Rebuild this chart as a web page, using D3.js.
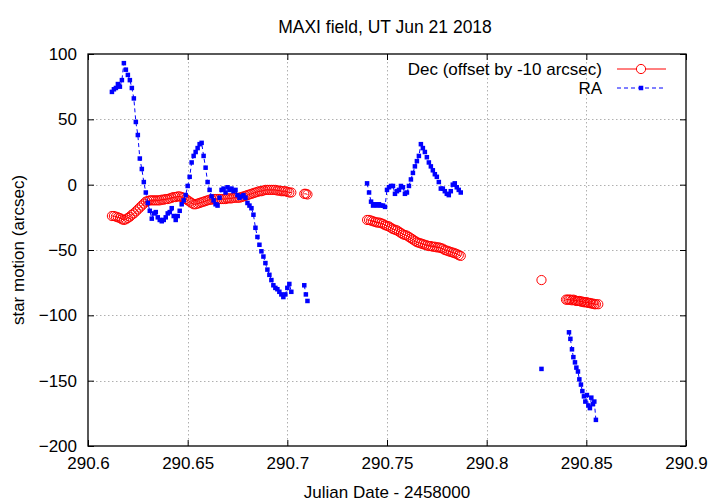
<!DOCTYPE html>
<html><head><meta charset="utf-8">
<script src="https://cdn.jsdelivr.net/npm/d3@7/dist/d3.min.js"></script>
<style>
body{margin:0;background:#fff}
text{font-family:"Liberation Sans",Arial,Helvetica,sans-serif;fill:#000}
</style>
</head><body>
<svg id="chart" width="720" height="504"></svg>
<script>
const chartTitle = "MAXI field, UT Jun 21 2018";
const xLabel = "Julian Date - 2458000";
const yLabel = "star motion (arcsec)";
const legendLabels = ["Dec (offset by -10 arcsec)", "RA"];
const xTicks = [290.6, 290.65, 290.7, 290.75, 290.8, 290.85, 290.9];
const xTickLabels = ["290.6", "290.65", "290.7", "290.75", "290.8", "290.85", "290.9"];
const yTicks = [-200, -150, -100, -50, 0, 50, 100];

// Segment 1 (main run)
const seg1Time = [290.612,290.613,290.614,290.615,290.616,290.617,290.618,290.619,290.620,290.621,
290.622,290.623,290.624,290.625,290.626,290.627,290.628,290.629,290.630,290.631,
290.632,290.633,290.634,290.635,290.636,290.637,290.638,290.639,290.640,290.641,
290.642,290.643,290.644,290.645,290.646,290.647,290.648,290.649,290.650,290.651,
290.652,290.653,290.654,290.655,290.656,290.657,290.658,290.659,290.660,290.661,
290.662,290.663,290.664,290.665,290.666,290.667,290.668,290.669,290.670,290.671,
290.672,290.673,290.674,290.675,290.676,290.677,290.678,290.679,290.680,290.681,
290.682,290.683,290.684,290.685,290.686,290.687,290.688,290.689,290.690,290.691,
290.692,290.693,290.694,290.695,290.696,290.697,290.698,290.699,290.700,290.701,290.702];
const seg1RA = [71,73,74,77,75,80,93,88,84,80,
74,66,48,38,20,12,2,-6,-14,-20,
-26,-22,-21,-25,-27,-28,-27,-25,-22,-21,
-18,-24,-27,-24,-20,-15,-12,-8,-1,6,
17,22,25,28,31,32,22,13,2,-4,
-9,-12,-15,-16,-10,-4,-3,-6,-2,-4,
-3,-5,-4,-8,-10,-9,-8,-10,-14,-16,
-18,-23,-33,-40,-46,-51,-55,-60,-65,-69,
-73,-77,-79,-80,-82,-84,-86,-84,-79,-76,-82];
const seg1Dec = [-24,-24,-24.5,-25,-25.5,-26.5,-27,-26.5,-25.5,-24.5,
-23,-22,-20.5,-19,-17.5,-16,-14.5,-13,-12.5,-12,
-12,-12,-12,-12,-12,-11.5,-11.5,-11,-11,-10.5,
-10,-9.5,-9.5,-9,-9,-9.5,-10,-11,-12,-13,
-14,-15,-15,-14.5,-14,-13.5,-13,-12.5,-12,-11.5,
-11.5,-11,-11,-11,-11,-11,-11,-11,-10.5,-10.5,
-10.5,-10,-10,-10,-10,-9.5,-9,-8.5,-8,-7.5,
-7,-6.5,-6,-5.5,-5,-5,-4.5,-4,-4,-4,
-4,-4,-4,-4.5,-4.5,-5,-5,-5,-5.5,-6,-6];

// Segment 1b (short tail)
const seg1bTime = [290.7085, 290.7093, 290.7101];
const seg1bRA = [-77, -84, -89];
const seg1bDec = [-7, -7, -7.5];

// Segment 2
const seg2Time = [290.740,290.741,290.742,290.743,290.744,290.745,290.746,290.747,290.748,290.749,
290.750,290.751,290.752,290.753,290.754,290.755,290.756,290.757,290.758,290.759,
290.760,290.761,290.762,290.763,290.764,290.765,290.766,290.767,290.768,290.769,
290.770,290.771,290.772,290.773,290.774,290.775,290.776,290.777,290.778,290.779,
290.780,290.781,290.782,290.783,290.784,290.785,290.786,290.787];
const seg2RA = [1,-6,-13,-16,-15,-16,-15,-16,-16,-17,
-4,-2,-1,-1,-7,-5,-4,-1,-2,-7,
-6,-1,4,9,14,18,22,31,28,25,
21,17,14,11,8,6,2,-3,-3,-5,
-7,-8,-5,0,1,-2,-4,-6];
const seg2Dec = [-27,-27,-27.5,-28,-28.5,-29,-29,-29.5,-30,-31,
-31.5,-32,-33,-34,-34.5,-35,-36,-37,-38,-38.5,
-39,-40,-41,-42,-43,-44,-44.5,-45,-45.5,-46,
-46.5,-47,-47,-47.5,-47.5,-48,-48,-48.5,-49,-50,
-50.5,-51,-51.5,-52,-52.5,-53,-54,-54.5];

// Segment 3a (isolated point)
const seg3aTime = [290.8275];
const seg3aRA = [-141];
const seg3aDec = [-73];

// Segment 3b
const seg3bTime = [290.8398,290.8405,290.8413,290.8420,290.8428,290.8435,290.8443,290.8450,290.8458,290.8465,
290.8473,290.8480,290.8488,290.8495,290.8503,290.8510,290.8518,290.8525,290.8533,290.8540,290.8548,290.8560];
const seg3bRA = [null,null,-113,-118,-126,-132,-136,-140,-143,-149,
-153,-158,-162,-166,-161,-169,-171,-163,-168,-166,-180,null];
const seg3bDec = [-88,-88,-88,-88,-88.5,-88,-88.5,-89,-89,-89,
-89.5,-89.5,-90,-90,-90,-90.5,-90.5,-91,-91,-91.5,-91.5,-91.5];

const segments = [
  [seg1Time, seg1RA, seg1Dec],
  [seg1bTime, seg1bRA, seg1bDec],
  [seg2Time, seg2RA, seg2Dec],
  [seg3aTime, seg3aRA, seg3aDec],
  [seg3bTime, seg3bRA, seg3bDec]
];

const RED = "#ff0000", BLUE = "#0000ff";
const L = 88, R = 686, T = 54, B = 446;
const svg = d3.select("#chart");
svg.append("rect").attr("width",720).attr("height",504).attr("fill","#fff");

const x = d3.scaleLinear().domain([290.6, 290.9]).range([L, R]);
const y = d3.scaleLinear().domain([-200, 100]).range([B, T]);

// grid
const grid = svg.append("g");
grid.selectAll("line.gx").data(xTicks.slice(1, -1)).join("line")
  .attr("x1", d => Math.round(x(d)) + 0.5).attr("x2", d => Math.round(x(d)) + 0.5)
  .attr("y1", T).attr("y2", B)
  .attr("stroke", "#b0b0b0").attr("stroke-width", 1).attr("stroke-dasharray", "1.5,2.5");
grid.selectAll("line.gy").data(yTicks.slice(1, -1)).join("line")
  .attr("y1", d => Math.round(y(d)) + 0.5).attr("y2", d => Math.round(y(d)) + 0.5)
  .attr("x1", L).attr("x2", R)
  .attr("stroke", "#b0b0b0").attr("stroke-width", 1).attr("stroke-dasharray", "1.5,2.5");

// axes
const fmt = d => xTickLabels[xTicks.indexOf(d)];
const axB = svg.append("g").attr("transform", `translate(0,${B})`)
  .call(d3.axisBottom(x).tickValues(xTicks).tickFormat(fmt).tickSizeInner(-6).tickSizeOuter(0).tickPadding(10));
const axT = svg.append("g").attr("transform", `translate(0,${T})`)
  .call(d3.axisTop(x).tickValues(xTicks).tickFormat("").tickSizeInner(-6).tickSizeOuter(0));
const axL = svg.append("g").attr("transform", `translate(${L},0)`)
  .call(d3.axisLeft(y).tickValues(yTicks).tickFormat(d3.format("d")).tickSizeInner(-6).tickSizeOuter(0).tickPadding(11));
const axR = svg.append("g").attr("transform", `translate(${R},0)`)
  .call(d3.axisRight(y).tickValues(yTicks).tickFormat("").tickSizeInner(-6).tickSizeOuter(0));
[axB, axT, axL, axR].forEach(g => {
  g.select(".domain").remove();
  g.selectAll(".tick line").attr("stroke", "#000").attr("stroke-width", 1);
  g.selectAll("text").attr("font-size", 17).attr("fill", "#000")
    .style("font-family", '"Liberation Sans",Arial,sans-serif');
});
axB.selectAll("text").attr("dy", "0.75em");

// border
svg.append("rect").attr("x", L).attr("y", T).attr("width", R - L).attr("height", B - T)
  .attr("fill", "none").attr("stroke", "#000").attr("stroke-width", 1.3);

// data
const plot = svg.append("g");
segments.forEach(([t, ra, dec]) => {
  const pts = t.map((tt, i) => ({t: tt, ra: ra[i], dec: dec[i]}));
  const decLine = d3.line().defined(d => d.dec != null).x(d => x(d.t)).y(d => y(d.dec));
  plot.append("path").attr("d", decLine(pts)).attr("fill", "none")
    .attr("stroke", RED).attr("stroke-width", 1);
  plot.selectAll(null).data(pts.filter(d => d.dec != null)).join("circle")
    .attr("cx", d => x(d.t)).attr("cy", d => y(d.dec)).attr("r", 4.6)
    .attr("fill", "none").attr("stroke", RED).attr("stroke-width", 1);
});
segments.forEach(([t, ra, dec]) => {
  const pts = t.map((tt, i) => ({t: tt, ra: ra[i], dec: dec[i]}));
  const raLine = d3.line().defined(d => d.ra != null).x(d => x(d.t)).y(d => y(d.ra));
  plot.append("path").attr("d", raLine(pts)).attr("fill", "none")
    .attr("stroke", BLUE).attr("stroke-width", 1).attr("stroke-dasharray", "4,3");
  plot.selectAll(null).data(pts.filter(d => d.ra != null)).join("rect")
    .attr("x", d => x(d.t) - 2.25).attr("y", d => y(d.ra) - 2.25).attr("width", 4.5).attr("height", 4.5)
    .attr("fill", BLUE);
});

// legend
const lg = svg.append("g");
const legY = [69, 88];
lg.append("text").attr("x", 602).attr("y", legY[0]).attr("dy", "0.35em").attr("text-anchor", "end")
  .attr("font-size", 17).text(legendLabels[0]);
lg.append("line").attr("x1", 617).attr("x2", 666).attr("y1", legY[0]).attr("y2", legY[0])
  .attr("stroke", RED).attr("stroke-width", 1);
lg.append("circle").attr("cx", 641).attr("cy", legY[0]).attr("r", 4.6)
  .attr("fill", "#fff").attr("stroke", RED).attr("stroke-width", 1);
lg.append("text").attr("x", 602).attr("y", legY[1]).attr("dy", "0.35em").attr("text-anchor", "end")
  .attr("font-size", 17).text(legendLabels[1]);
lg.append("line").attr("x1", 617).attr("x2", 666).attr("y1", legY[1]).attr("y2", legY[1])
  .attr("stroke", BLUE).attr("stroke-width", 1).attr("stroke-dasharray", "4,3");
lg.append("rect").attr("x", 638.75).attr("y", legY[1] - 2.25).attr("width", 4.5).attr("height", 4.5).attr("fill", BLUE);

// titles
svg.append("text").attr("x", 385).attr("y", 27).attr("dy", "0.35em").attr("text-anchor", "middle")
  .attr("font-size", 17.5).text(chartTitle);
svg.append("text").attr("x", 387).attr("y", 492).attr("dy", "0.35em").attr("text-anchor", "middle")
  .attr("font-size", 17).text(xLabel);
svg.append("text").attr("transform", "translate(18,250) rotate(-90)").attr("dy", "0.35em")
  .attr("text-anchor", "middle").attr("font-size", 17).text(yLabel);
</script>
</body></html>
